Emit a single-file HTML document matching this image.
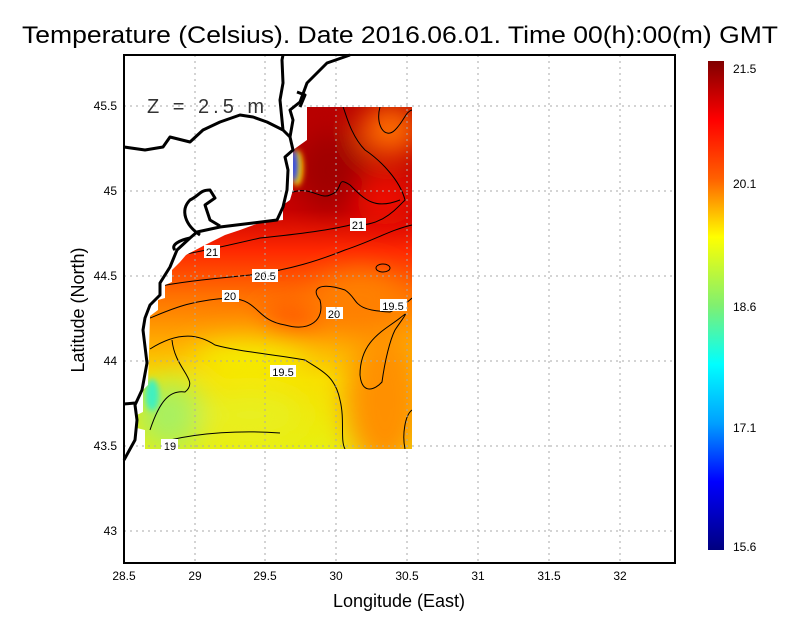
<!DOCTYPE html>
<html><head><meta charset="utf-8"><style>
html,body{margin:0;padding:0;background:#fff;}
svg{display:block;font-family:"Liberation Sans",sans-serif;}
</style></head><body>
<svg width="800" height="618" viewBox="0 0 800 618" xmlns="http://www.w3.org/2000/svg">
<defs>
<linearGradient id="bg" x1="0" y1="107" x2="0" y2="449" gradientUnits="userSpaceOnUse">
<stop offset="0" stop-color="#b80000"/>
<stop offset="0.3" stop-color="#c80000"/>
<stop offset="0.42" stop-color="#ff2800"/>
<stop offset="0.55" stop-color="#ff7000"/>
<stop offset="0.68" stop-color="#ffa800"/>
<stop offset="0.8" stop-color="#f8e000"/>
<stop offset="1" stop-color="#e8f010"/>
</linearGradient>
<linearGradient id="cb" x1="0" y1="61" x2="0" y2="550" gradientUnits="userSpaceOnUse">
<stop offset="0" stop-color="#800000"/>
<stop offset="0.12" stop-color="#ff0000"/>
<stop offset="0.24" stop-color="#ff6000"/>
<stop offset="0.36" stop-color="#ffff00"/>
<stop offset="0.5" stop-color="#80f070"/>
<stop offset="0.62" stop-color="#00ffff"/>
<stop offset="0.74" stop-color="#00a0ff"/>
<stop offset="0.86" stop-color="#0000ff"/>
<stop offset="1" stop-color="#000080"/>
</linearGradient>
<filter id="bl" x="-50%" y="-50%" width="200%" height="200%"><feGaussianBlur stdDeviation="14"/></filter>
<filter id="bl2" x="-50%" y="-50%" width="200%" height="200%"><feGaussianBlur stdDeviation="3"/></filter>
<clipPath id="dc"><polygon points="307,107 412,107 412,449 145,449 145,430 137,428 137,415 143,412 143,390 148,385 150,316 158,310 158,300 165,298 165,285 172,282 172,270 180,262 186,255 205,245 225,235 240,230 262,222 283,220 283,205 290,200 293,190 293,150 300,145 307,140"/></clipPath>
</defs>

<g clip-path="url(#dc)">
<rect x="130" y="100" width="290" height="360" fill="url(#bg)"/>
<g filter="url(#bl)">
<ellipse cx="385" cy="400" rx="40" ry="70" fill="#ff9000"/>
<ellipse cx="360" cy="300" rx="45" ry="30" fill="#ff8000"/>
<ellipse cx="390" cy="130" rx="30" ry="25" fill="#ff7000"/>
<ellipse cx="385" cy="200" rx="30" ry="25" fill="#f01000"/>
<ellipse cx="330" cy="170" rx="35" ry="40" fill="#a00000"/>
<ellipse cx="290" cy="320" rx="30" ry="15" fill="#ff5000"/>
<ellipse cx="170" cy="415" rx="35" ry="35" fill="#a8f060"/>
<ellipse cx="250" cy="415" rx="55" ry="22" fill="#e8f020"/>
<ellipse cx="250" cy="360" rx="60" ry="18" fill="#f4f000"/>
</g>
<ellipse cx="152" cy="395" rx="7" ry="16" fill="#40f0c0" filter="url(#bl2)"/>
<ellipse cx="297" cy="168" rx="6" ry="18" fill="#ffe000" filter="url(#bl2)"/>
<ellipse cx="294" cy="166" rx="4" ry="16" fill="#2040ff" filter="url(#bl2)"/>
<g fill="none" stroke="#000" stroke-width="1">
<path d="M150,349 C180,330 200,335 215,345 C240,352 280,355 305,360 C320,370 335,375 340,400 C345,420 340,440 345,449"/>
<path d="M150,430 C160,400 170,390 185,392 C200,380 175,370 172,340"/>
<path d="M170,440 C200,433 240,430 280,433"/>
<path d="M150,318 C170,310 190,300 230,298 C260,300 255,320 285,325 C310,332 325,320 320,300 C310,288 320,282 345,290 C360,300 350,310 390,312 C405,305 410,300 412,298"/>
<path d="M150,288 C180,282 200,280 250,275 C290,270 320,260 345,250 C375,240 390,230 412,225"/>
<path d="M180,255 C200,252 230,245 260,238 C290,235 330,230 350,225 C380,228 395,210 405,200 C400,180 380,160 365,150 C350,135 345,110 343,107"/>
<path d="M290,193 C310,185 320,200 330,195 C345,190 335,175 350,185 C365,200 375,210 400,200"/>
<path d="M380,107 C375,125 385,140 395,130 C405,120 405,112 412,110"/>
<path d="M395,330 C405,315 410,310 400,318 C385,330 360,340 360,375 C362,395 375,390 382,382 C385,360 390,340 395,330"/>
<path d="M405,449 C402,435 405,415 412,410"/>
<ellipse cx="383" cy="268" rx="7" ry="4"/>
</g>
</g>
<g font-size="11" text-anchor="middle">
<rect x="350" y="218" width="16" height="13" fill="#fff"/><text x="358" y="229">21</text>
<rect x="204" y="245" width="16" height="13" fill="#fff"/><text x="212" y="256">21</text>
<rect x="252" y="269" width="26" height="13" fill="#fff"/><text x="265" y="280">20.5</text>
<rect x="222" y="290" width="17" height="12" fill="#fff"/><text x="230" y="300">20</text>
<rect x="326" y="307" width="17" height="12" fill="#fff"/><text x="334" y="318">20</text>
<rect x="380" y="299" width="27" height="12" fill="#fff"/><text x="393" y="310">19.5</text>
<rect x="270" y="365" width="26" height="12" fill="#fff"/><text x="283" y="376">19.5</text>
<rect x="161" y="439" width="17" height="12" fill="#fff"/><text x="170" y="450">19</text>
</g>

<g stroke="#aaa" stroke-width="1" stroke-dasharray="2,4">
<line x1="195" y1="55" x2="195" y2="563"/><line x1="265" y1="55" x2="265" y2="563"/>
<line x1="336" y1="55" x2="336" y2="563"/><line x1="407" y1="55" x2="407" y2="563"/>
<line x1="478" y1="55" x2="478" y2="563"/><line x1="549" y1="55" x2="549" y2="563"/>
<line x1="620" y1="55" x2="620" y2="563"/>
<line x1="124" y1="106" x2="675" y2="106"/><line x1="124" y1="191" x2="675" y2="191"/>
<line x1="124" y1="276" x2="675" y2="276"/><line x1="124" y1="361" x2="675" y2="361"/>
<line x1="124" y1="446" x2="675" y2="446"/><line x1="124" y1="531" x2="675" y2="531"/>
</g>

<g fill="none" stroke="#000" stroke-width="3" stroke-linejoin="round">
<path d="M124,147 L145,150 L163,147 L170,137 L190,142 L203,130 L220,122 L240,115 L253,117 L267,122 L283,130 L290,137 L293,150 L285,157 L288,170 L287,190 L283,207 L277,220 L253,223 L220,227 L197,232 L190,238 L177,250 L170,267 L160,283 L160,295 L150,305 L145,318 L143,330 L147,363 L142,390 L135,405 L137,420 L135,440 L124,460"/>
<path d="M190,238 C180,240 170,245 175,250"/>
<path d="M200,235 C185,225 180,210 190,200 C200,195 200,190 210,190 L215,198 L205,205 L210,220 L220,226"/>
<path d="M283,130 L280,100 L283,83 L282,60 L283,55"/>
<path d="M290,137 L293,120 L290,110 L300,102 L307,83 L327,63 L350,55"/>
<path d="M300,107 L305,95 L297,92"/>
<path d="M124,404 L135,403"/>
</g>

<rect x="124" y="55" width="551" height="508" fill="none" stroke="#000" stroke-width="2"/>
<text x="147" y="113" font-size="20" fill="#333" letter-spacing="4">Z = 2.5 m</text>

<g font-size="12" text-anchor="middle">
<text x="124" y="580">28.5</text><text x="195" y="580">29</text><text x="265" y="580">29.5</text>
<text x="336" y="580">30</text><text x="407" y="580">30.5</text><text x="478" y="580">31</text>
<text x="549" y="580">31.5</text><text x="620" y="580">32</text>
</g>
<g font-size="12" text-anchor="end">
<text x="117" y="110">45.5</text><text x="117" y="195">45</text><text x="117" y="280">44.5</text>
<text x="117" y="365">44</text><text x="117" y="450">43.5</text><text x="117" y="535">43</text>
</g>

<text x="22" y="43" font-size="24" textLength="756" lengthAdjust="spacingAndGlyphs">Temperature (Celsius). Date 2016.06.01. Time 00(h):00(m)  GMT</text>
<text x="399" y="607" font-size="18" text-anchor="middle">Longitude (East)</text>
<text transform="translate(84,310) rotate(-90)" font-size="18" text-anchor="middle">Latitude (North)</text>

<rect x="708" y="61" width="16" height="489" fill="url(#cb)"/>
<g font-size="12">
<text x="733" y="73">21.5</text><text x="733" y="188">20.1</text><text x="733" y="311">18.6</text>
<text x="733" y="432">17.1</text><text x="733" y="551">15.6</text>
</g>
</svg>
</body></html>
